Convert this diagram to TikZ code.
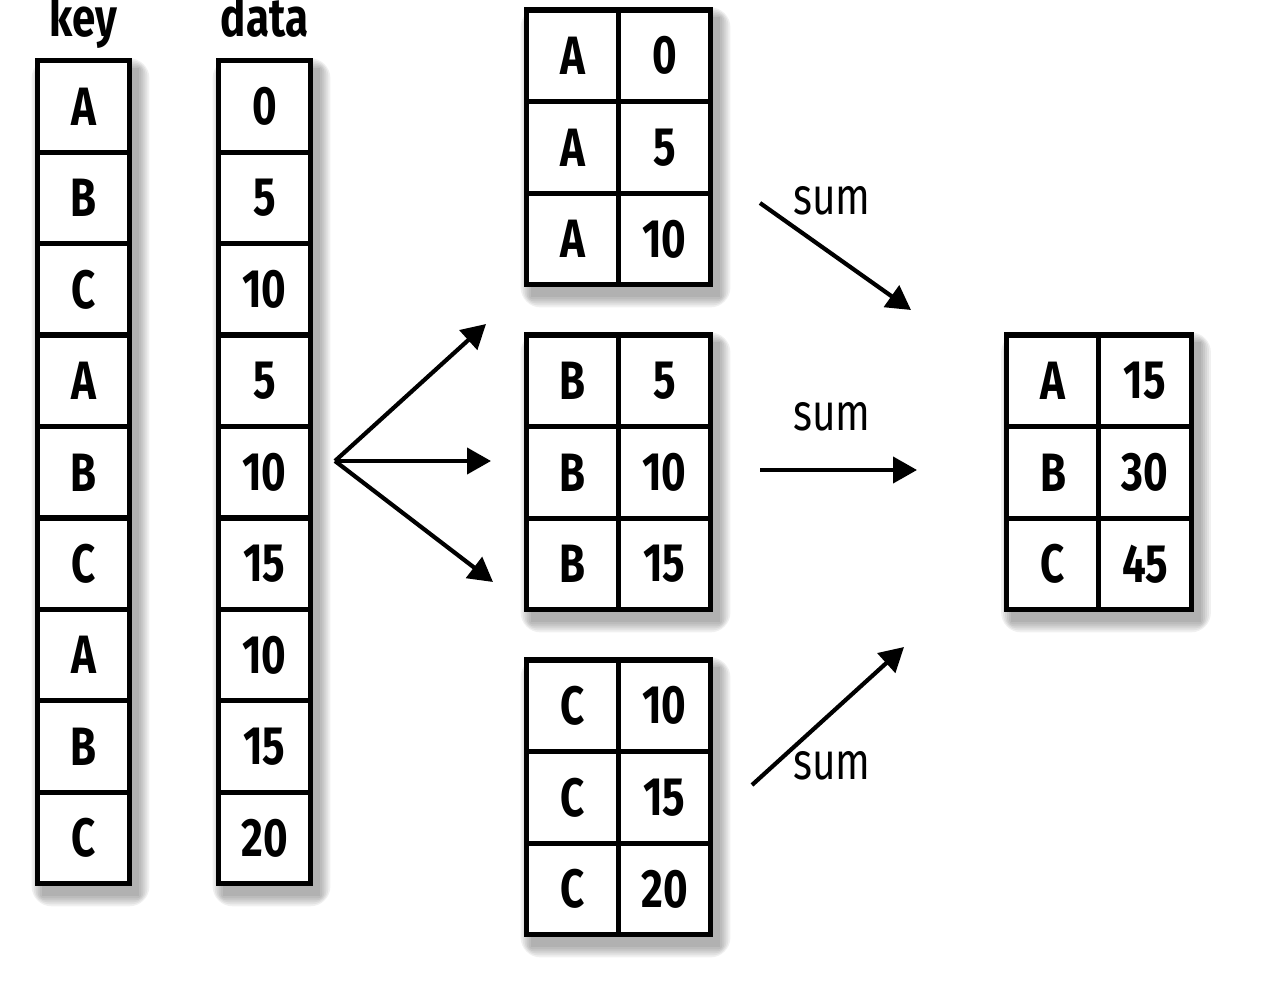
\documentclass[tikz,border=0pt]{standalone}
\usepackage{fontspec}
\setmainfont{Fira Sans}[FakeStretch=0.78]
\usetikzlibrary{arrows.meta,calc,backgrounds}

\tikzset{
  cell/.style={draw, fill=white, line width=2.6pt, minimum width=46.3pt, minimum height=45.8pt,
    inner sep=0pt, font=\fontsize{27}{27}\selectfont\bfseries},
  head/.style={anchor=base, inner sep=0pt, font=\fontsize{27}{27}\selectfont\bfseries},
  lbl/.style={anchor=base, inner sep=0pt, font=\fontsize{26}{26}\selectfont},
  arr/.style={line width=2.1pt, -{Triangle[length=12pt,width=13pt]}},
}
% soft shadow behind a block of cells
\newcommand\boxshade[2]{%
  \foreach \s in {0,2,4,6,8,10}
    \fill[black, opacity=0.06, rounded corners=\s]
      ($(#1.north west)+(7-\s,10-\s)$) rectangle ($(#2.south east)+(7+\s,10+\s)$);}

\begin{document}
\begin{tikzpicture}[x=0.5pt,y=-0.5pt]
  \useasboundingbox (0,0) rectangle (1288,983);

  % input columns
  \node[head] (keyhead) at (83.5,37) {key};
  \node[head] (datahead) at (264.5,37) {data};
  \foreach \k/\v [count=\i] in {A/0,B/5,C/10,A/5,B/10,C/15,A/10,B/15,C/20} {
    \node[cell] (k\i) at (83.5,{61+91.4*(\i-0.5)}) {\k};
    \node[cell] (v\i) at (264.5,{61+91.4*(\i-0.5)}) {\v};
  }

  % groups
  \foreach \g/\y/\a/\b/\c in {A/10/0/5/10, B/335/5/10/15, C/660/10/15/20} {
    \node[cell] (\g k1) at (572.5,\y+45.8) {\g};
    \node[cell] (\g v1) at (664.5,\y+45.8) {\a};
    \node[cell] (\g k2) at (572.5,\y+137.4) {\g};
    \node[cell] (\g v2) at (664.5,\y+137.4) {\b};
    \node[cell] (\g k3) at (572.5,\y+229) {\g};
    \node[cell] (\g v3) at (664.5,\y+229) {\c};
  }

  % result
  \node[cell] (rk1) at (1053,380.8) {A};
  \node[cell] (rv1) at (1145,380.8) {15};
  \node[cell] (rk2) at (1053,472.4) {B};
  \node[cell] (rv2) at (1145,472.4) {30};
  \node[cell] (rk3) at (1053,564) {C};
  \node[cell] (rv3) at (1145,564) {45};

  \begin{pgfonlayer}{background}
    \boxshade{k1}{k9}
    \boxshade{v1}{v9}
    \boxshade{Ak1}{Av3}
    \boxshade{Bk1}{Bv3}
    \boxshade{Ck1}{Cv3}
    \boxshade{rk1}{rv3}
  \end{pgfonlayer}

  % split arrows
  \coordinate (split) at (335,461);
  \coordinate (toA) at (486,324);
  \coordinate (toB) at (491,461);
  \coordinate (toC) at (493,582);
  \draw[arr] (split) -- (toA);
  \draw[arr] (split) -- (toB);
  \draw[arr] (split) -- (toC);

  % sum arrows
  \coordinate (fromA) at (760,203); \coordinate (sumA) at (911,310);
  \coordinate (fromB) at (760,470); \coordinate (sumB) at (917,470);
  \coordinate (fromC) at (752,785); \coordinate (sumC) at (904,647);
  \draw[arr] (fromA) -- (sumA);
  \draw[arr] (fromB) -- (sumB);
  \draw[arr] (fromC) -- (sumC);
  \node[lbl] (lblA) at (832,215) {sum};
  \node[lbl] (lblB) at (832,430) {sum};
  \node[lbl] (lblC) at (832,779) {sum};
\end{tikzpicture}
\end{document}
